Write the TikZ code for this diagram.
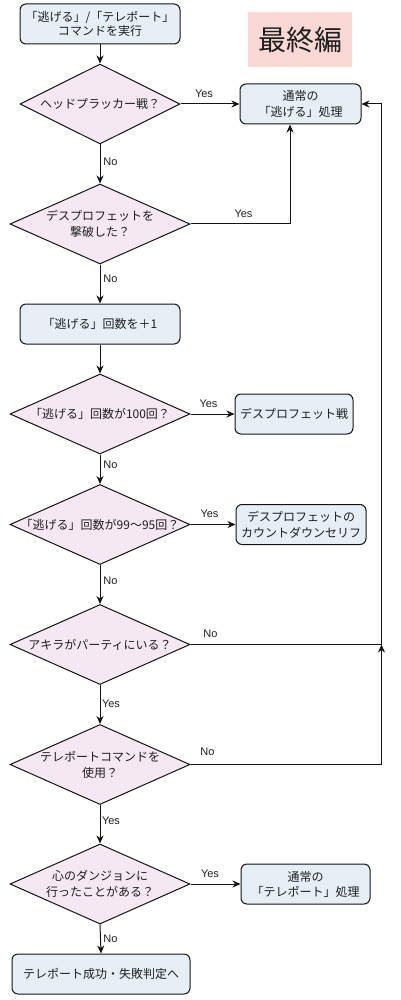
\documentclass[tikz,border=0pt]{standalone}
\usepackage{fontspec}
\setmainfont{Noto Sans CJK JP}
\newfontfamily\lat{Liberation Sans}
\usetikzlibrary{shapes.geometric,arrows.meta}
\definecolor{boxfill}{RGB}{230,238,246}
\definecolor{diafill}{RGB}{246,232,242}
\definecolor{titlefill}{RGB}{250,217,213}
\definecolor{linec}{RGB}{20,20,20}
\definecolor{txt}{RGB}{30,30,30}
\begin{document}
\begin{tikzpicture}[x=1pt,y=-1pt,
  box/.style={draw=linec, fill=boxfill, rounded corners=6pt, line width=1pt, align=center, text=txt, font=\fontsize{12}{16}\selectfont, inner sep=0pt, minimum height=40pt},
  dia/.style={draw=linec, fill=diafill, diamond, line width=1pt, inner sep=0pt, minimum width=180pt, minimum height=80pt},
  dtext/.style={align=center, text=txt, font=\fontsize{12}{16}\selectfont, inner sep=0pt},
  lab/.style={font=\lat\fontsize{11}{13}\selectfont, text=txt, inner sep=0pt},
  arr/.style={draw=linec, line width=1pt, -{Stealth[length=8pt,width=7pt,inset=2.5pt]}},
  ln/.style={draw=linec, line width=1pt},
]
\useasboundingbox (0,0) rectangle (400,1000);

% title
\node[fill=titlefill, minimum width=104pt, minimum height=55pt, inner sep=0pt, text=txt, font=\fontsize{28}{30}\selectfont] (title) at (300,39.5) {最終編};

% boxes
\node[box, minimum width=160pt, font=\fontsize{12}{14}\selectfont] (start) at (100,24) {「逃げる」/「テレポート」\\コマンドを実行};
\node[box, minimum width=121pt] (esc) at (300.5,104) {通常の\\「逃げる」処理};
\node[box, minimum width=160pt] (cnt) at (100,324) {「逃げる」回数を＋1};
\node[box, minimum width=118pt] (dpb) at (294,414) {デスプロフェット戦};
\node[box, minimum width=130pt] (cd) at (301,524.5) {デスプロフェットの\\カウントダウンセリフ};
\node[box, minimum width=129pt, font=\fontsize{12}{15}\selectfont] (tel) at (305.5,884) {通常の\\「テレポート」処理};
\node[box, minimum width=178pt] (fin) at (101,974) {テレポート成功・失敗判定へ};

% diamonds
\node[dia, minimum width=160pt] (d1) at (100,104) {};
\node[dtext] (d1t) at (d1) {ヘッドプラッカー戦？};
\node[dia] (d2) at (100,224) {};
\node[dtext] (d2t) at (d2) {デスプロフェットを\\撃破した？};
\node[dia] (d3) at (100,414) {};
\node[dtext] (d3t) at (d3) {「逃げる」回数が100回？};
\node[dia] (d4) at (100,524.5) {};
\node[dtext] (d4t) at (d4) {「逃げる」回数が99〜95回？};
\node[dia] (d5) at (100,644.5) {};
\node[dtext] (d5t) at (d5) {アキラがパーティにいる？};
\node[dia] (d6) at (100,764.5) {};
\node[dtext] (d6t) at (d6) {テレポートコマンドを\\使用？};
\node[dia] (d7) at (100,884) {};
\node[dtext] (d7t) at (d7) {心のダンジョンに\\行ったことがある？};

% connectors
\draw[arr] (start.south) -- (d1.north);
\draw[arr] (d1.east) -- (d1.east -| esc.west);
\draw[arr] (d1.south) -- (d2.north);
\draw[arr] (d2.east) -| ([xshift=-10.5pt]esc.south);
\draw[arr] (d2.south) -- (cnt.north);
\draw[arr] (cnt.south) -- (d3.north);
\draw[arr] (d3.east) -- (d3.east -| dpb.west);
\draw[arr] (d3.south) -- (d4.north);
\draw[arr] (d4.east) -- (d4.east -| cd.west);
\draw[arr] (d4.south) -- (d5.north);
\coordinate (loopTop) at ([xshift=20pt]esc.east);
\coordinate (join) at (loopTop |- d5.east);
\draw[arr] (d5.east) -| (loopTop) -- (esc.east);
\draw[arr] (d6.east) -| (join);
\draw[arr] (d5.south) -- (d6.north);
\draw[arr] (d6.south) -- (d7.north);
\draw[arr] (d7.east) -- (d7.east -| tel.west);
\draw[arr] (d7.south) -- (fin.north);

% labels
\node[lab] (l1) at (204,94) {Yes};
\node[lab] (l2) at (110.5,162) {No};
\node[lab] (l3) at (243.5,214) {Yes};
\node[lab] (l4) at (110.5,279) {No};
\node[lab] (l5) at (208.5,404) {Yes};
\node[lab] (l6) at (110.5,465) {No};
\node[lab] (l7) at (209.5,514) {Yes};
\node[lab] (l8) at (110.5,581) {No};
\node[lab] (l9) at (210.5,634) {No};
\node[lab] (l10) at (111,704) {Yes};
\node[lab] (l11) at (207.5,752) {No};
\node[lab] (l12) at (111,821) {Yes};
\node[lab] (l13) at (210,874) {Yes};
\node[lab] (l14) at (110.5,939) {No};
\end{tikzpicture}
\end{document}
